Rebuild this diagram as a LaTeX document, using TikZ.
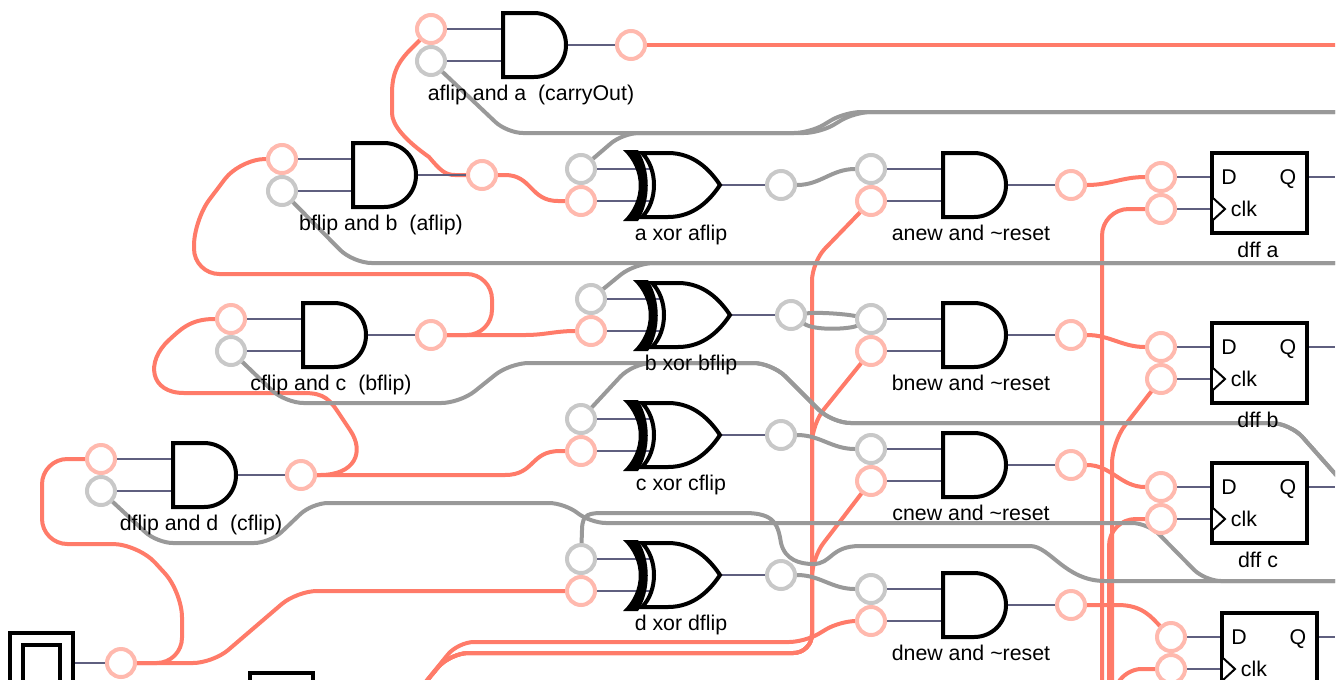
\documentclass[tikz,border=0pt]{standalone}
\usepackage{fontspec}
\setmainfont{Liberation Sans}
\usetikzlibrary{backgrounds}
\definecolor{hiwire}{HTML}{FF7B69}
\definecolor{hipin}{HTML}{FFB9AE}
\definecolor{lowire}{HTML}{999999}
\definecolor{lopin}{HTML}{C8C8C8}
\definecolor{stub}{HTML}{5F5F7F}
\tikzset{x=0.75pt,y=-0.75pt}
\tikzset{pinhi/.style={circle,draw=hipin,fill=white,line width=3pt,minimum size=21pt,inner sep=0pt}}
\tikzset{pinlo/.style={pinhi,draw=lopin}}
\tikzset{wirehi/.style={draw=hiwire,line width=3pt,line cap=round}}
\tikzset{wirelo/.style={draw=lowire,line width=3pt,line cap=round}}
\tikzset{stubwire/.style={draw=stub,line width=1.7pt}}
\tikzset{body/.style={draw=black,fill=white,line width=3pt,line join=miter}}
\tikzset{gatetext/.style={font=\fontsize{16}{18}\selectfont,inner sep=0pt,anchor=base}}
\tikzset{inbox/.style={draw=black,line width=3pt,inner sep=0pt,minimum width=47.25pt}}
\tikzset{pics/andgate/.style={code={
  \draw[body] (2,0) -- (33,0) .. controls (51,0) and (65,14) .. (65,32) .. controls (65,50) and (51,64) .. (33,64) -- (2,64) -- cycle;
  \coordinate (-a) at (2,16);
  \coordinate (-b) at (2,48);
  \coordinate (-y) at (65,32);
  \node[gatetext] (-text) at (30,87) {#1};
}}}
\tikzset{pics/xorgate/.style={code={
  \draw[body] (17,0) -- (43,0) .. controls (69,0) and (85,17) .. (95,32) .. controls (85,47) and (69,64) .. (43,64) -- (17,64) .. controls (33,48) and (33,16) .. (17,0) -- cycle;
  \fill (-2,-3) .. controls (19,17) and (19,48) .. (-2,68) -- (13,68) .. controls (26,48) and (26,17) .. (13,-3) -- cycle;
  \coordinate (-a) at (25,16);
  \coordinate (-b) at (25,48);
  \coordinate (-y) at (95,32);
  \node[gatetext] (-text) at (56,87) {#1};
}}}
\tikzset{pics/dffbox/.style={code={
  \draw[body] (0,0) rectangle (95,80);
  \draw[black,line width=1.5pt,fill=white] (1,45) -- (13,56) -- (1,67);
  \coordinate (-d) at (0,24);
  \coordinate (-c) at (0,56);
  \coordinate (-q) at (95,24);
  \node[gatetext] (-dtext) at (17,31) {D};
  \node[gatetext] (-qtext) at (76,31) {Q};
  \node[gatetext] (-ctext) at (32,63) {clk};
}}}

\begin{document}
\begin{tikzpicture}
  \useasboundingbox (0,0) rectangle (1344,679);
  \clip (0,0) rectangle (1335,679);

  % And gates, left column
  \pic (andcarry) at (501,13) {andgate={aflip and a\ \ (carryOut)}};
  \pic (andaflip) at (351,143) {andgate={bflip and b\ \ (aflip)}};
  \pic (andbflip) at (301,303) {andgate={cflip and c\ \ (bflip)}};
  \pic (andcflip) at (171,443) {andgate={dflip and d\ \ (cflip)}};
  % Xor gates
  \pic (xora) at (625,153) {xorgate={a xor aflip}};
  \pic (xorb) at (635,283) {xorgate={b xor bflip}};
  \pic (xorc) at (625,403) {xorgate={c xor cflip}};
  \pic (xord) at (625,543) {xorgate={d xor dflip}};
  % And gates, reset
  \pic (newa) at (941,153) {andgate={anew and \textasciitilde reset}};
  \pic (newb) at (941,303) {andgate={bnew and \textasciitilde reset}};
  \pic (newc) at (941,433) {andgate={cnew and \textasciitilde reset}};
  \pic (newd) at (941,573) {andgate={dnew and \textasciitilde reset}};
  % Flip flops
  \pic (dffa) at (1212,153) {dffbox};
  \pic (dffb) at (1212,323) {dffbox};
  \pic (dffc) at (1212,463) {dffbox};
  \pic (dffd) at (1222,613) {dffbox};
  \node[gatetext] (dffaname) at (1258,257) {dff a};
  \node[gatetext] (dffbname) at (1258,427) {dff b};
  \node[gatetext] (dffcname) at (1258,567) {dff c};
  % Boxes at the lower edge
  \node[inbox,minimum height=45pt] (flipbox) at (41.5,663) {};
  \node[inbox,minimum width=27.75pt,minimum height=45pt] (flipinner) at (41.5,675) {};
  \node[inbox,minimum height=45pt] (resetbox) at (281.5,703) {};

  % Pins
  \node[pinhi] (andcarrya) at (431,29) {};
  \node[pinlo] (andcarryb) at (431,61) {};
  \node[pinhi] (andcarryy) at (631,45) {};
  \node[pinhi] (andaflipa) at (282,159) {};
  \node[pinlo] (andaflipb) at (282,191) {};
  \node[pinhi] (andaflipy) at (482,175) {};
  \node[pinhi] (andbflipa) at (231,319) {};
  \node[pinlo] (andbflipb) at (231,351) {};
  \node[pinhi] (andbflipy) at (431,335) {};
  \node[pinhi] (andcflipa) at (101,459) {};
  \node[pinlo] (andcflipb) at (101,491) {};
  \node[pinhi] (andcflipy) at (301,475) {};
  \node[pinlo] (xoraa) at (581,169) {};
  \node[pinhi] (xorab) at (581,201) {};
  \node[pinlo] (xoray) at (781,185) {};
  \node[pinlo] (xorba) at (591,299) {};
  \node[pinhi] (xorbb) at (591,331) {};
  \node[pinlo] (xorby) at (791,315) {};
  \node[pinlo] (xorca) at (581,419) {};
  \node[pinhi] (xorcb) at (581,451) {};
  \node[pinlo] (xorcy) at (781,435) {};
  \node[pinlo] (xorda) at (581,559) {};
  \node[pinhi] (xordb) at (581,591) {};
  \node[pinlo] (xordy) at (781,575) {};
  \node[pinlo] (newaa) at (871,169) {};
  \node[pinhi] (newab) at (871,201) {};
  \node[pinhi] (neway) at (1071,185) {};
  \node[pinlo] (newba) at (871,319) {};
  \node[pinhi] (newbb) at (871,351) {};
  \node[pinhi] (newby) at (1071,335) {};
  \node[pinlo] (newca) at (871,449) {};
  \node[pinhi] (newcb) at (871,481) {};
  \node[pinhi] (newcy) at (1071,465) {};
  \node[pinlo] (newda) at (871,589) {};
  \node[pinhi] (newdb) at (871,621) {};
  \node[pinhi] (newdy) at (1071,605) {};
  \node[pinhi] (dffapd) at (1161,177) {};
  \node[pinhi] (dffapc) at (1161,209) {};
  \node[pinhi] (dffbpd) at (1161,347) {};
  \node[pinhi] (dffbpc) at (1161,379) {};
  \node[pinhi] (dffcpd) at (1161,487) {};
  \node[pinhi] (dffcpc) at (1161,519) {};
  \node[pinhi] (dffdpd) at (1171,637) {};
  \node[pinhi] (dffdpc) at (1171,669) {};
  \node[pinhi] (flipout) at (121,663) {};

  % Free ends
  \coordinate (carryend) at (1335,45);
  \coordinate (aend) at (1335,112);
  \coordinate (bend) at (1335,263);
  \coordinate (cend) at (1345,485);
  \coordinate (dend) at (1335,581);
  \coordinate (resetin) at (415,695);
  \coordinate (qa) at (1335,177);
  \coordinate (qb) at (1335,347);
  \coordinate (qc) at (1335,487);
  \coordinate (qd) at (1335,637);

  \begin{scope}[on background layer]
    \clip (0,0) rectangle (1335,679);
    % Wires, high
    \draw[wirehi] (andcarryy) -- (carryend);
    \draw[wirehi] (andcarrya) .. controls (405,55) and (392,65) .. (392,93) -- (392,113) .. controls (392,125) and (405,140) .. (429,157) .. controls (440,170) and (445,175) .. (455,175) -- (andaflipy);
    \draw[wirehi] (andaflipy) -- (505,175) .. controls (532,175) and (530,201) .. (558,201) -- (xorab);
    \draw[wirehi,rounded corners=19pt] (andaflipa) -- (240,159) -- (194,220) -- (194,274) -- (492,274) -- (492,335) -- (andbflipy);
    \draw[wirehi] (andbflipy) -- (525,335) .. controls (545,335) and (555,331) .. (575,331) -- (xorbb);
    \draw[wirehi] (andbflipa) -- (214,319) .. controls (190,319) and (180,330) .. (169,340) .. controls (145,362) and (150,393) .. (184,393) -- (304,393) .. controls (325,393) and (330,400) .. (340,415) -- (350,430) .. controls (365,452) and (355,475) .. (320,475) -- (andcflipy);
    \draw[wirehi] (andcflipy) -- (505,475) .. controls (535,475) and (530,451) .. (560,451) -- (xorcb);
    \draw[wirehi,rounded corners=19pt] (andcflipa) -- (42,459) -- (42,544) -- (138,544) -- (182,592) -- (182,663) -- (flipout);
    \draw[wirehi,rounded corners=15pt] (flipout) -- (213,663) -- (297,591) -- (xordb);
    \draw[wirehi,rounded corners=12pt] (resetin) -- (458,642) -- (805,642) -- (840,621) -- (newdb);
    \draw[wirehi,rounded corners=14pt] (resetin) -- (450,653) -- (812,653) -- (812,262) -- (newab);
    \draw[wirehi,rounded corners=14pt] (resetin) -- (450,653) -- (812,653) -- (812,424) -- (newbb);
    \draw[wirehi,rounded corners=14pt] (resetin) -- (450,653) -- (812,653) -- (812,558) -- (newcb);
    \draw[wirehi] (neway) to[out=0,in=180] (dffapd);
    \draw[wirehi] (newby) to[out=0,in=180] (dffbpd);
    \draw[wirehi] (newcy) to[out=0,in=180] (dffcpd);
    \draw[wirehi] (newdy) -- (1118,605) .. controls (1143,605) and (1152,618) .. (dffdpd);
    \draw[wirehi,rounded corners=20pt] (dffapc) -- (1102,209) -- (1102,695);
    \draw[wirehi,rounded corners=16pt] (dffbpc) -- (1112,442) -- (1112,695);
    \draw[wirehi,rounded corners=20pt] (dffcpc) -- (1109,519) -- (1109,695);
    \draw[wirehi,rounded corners=12pt] (dffdpc) -- (1125,669) -- (1112,695);
    % Wires, low
    \draw[wirelo,rounded corners=12pt] (andcarryb) -- (507,133) -- (820,133) -- (855,112) -- (aend);
    \draw[wirelo,rounded corners=12pt] (xoraa) -- (623,133) -- (810,133) -- (845,112) -- (aend);
    \draw[wirelo,rounded corners=14pt] (andaflipb) -- (353,263) -- (bend);
    \draw[wirelo,rounded corners=14pt] (xorba) -- (635,263) -- (bend);
    \draw[wirelo,rounded corners=14pt] (andbflipb) -- (285,403) -- (460,403) -- (510,363) -- (772,363) -- (832,423) -- (1290,423) -- (cend);
    \draw[wirelo,rounded corners=14pt] (xorca) -- (633,363) -- (772,363) -- (832,423) -- (1290,423) -- (cend);
    \draw[wirelo,rounded corners=12pt] (andcflipb) -- (157,543) -- (270,543) -- (312,503) -- (565,503) -- (590,523) -- (1148,523) -- (1205,581) -- (dend);
    \draw[wirelo] (xorda) -- (582,530) .. controls (582,513) and (590,513) .. (605,513) -- (745,513) .. controls (775,513) and (778,525) .. (781,543) .. controls (785,560) and (800,564) .. (813,564) .. controls (832,564) and (830,546) .. (860,546) -- (1030,546) .. controls (1050,546) and (1065,581) .. (1105,581) -- (dend);
    \draw[wirelo] (xoray) to[out=0,in=180] (newaa);
    \draw[wirelo] (xorby) .. controls (820,312) and (845,314) .. (newba);
    \draw[wirelo] (xorby) .. controls (815,331) and (850,329) .. (newba);
    \draw[wirelo] (xorcy) to[out=0,in=180] (newca);
    \draw[wirelo] (xordy) to[out=0,in=180] (newda);
    % Stubs
    \foreach \g in {andcarry,andaflip,andbflip,andcflip,xora,xorb,xorc,xord,newa,newb,newc,newd}{
      \draw[stubwire] (\g a) -- (\g-a);
      \draw[stubwire] (\g b) -- (\g-b);
      \draw[stubwire] (\g-y) -- (\g y);
    }
    \foreach \g in {dffa,dffb,dffc,dffd}{
      \draw[stubwire] (\g pd) -- (\g-d);
      \draw[stubwire] (\g pc) -- (\g-c);
    }
    \draw[stubwire] (dffa-q) -- (qa);
    \draw[stubwire] (dffb-q) -- (qb);
    \draw[stubwire] (dffc-q) -- (qc);
    \draw[stubwire] (dffd-q) -- (qd);
    \draw[stubwire] (flipbox.east) -- (flipout);
  \end{scope}
\end{tikzpicture}
\end{document}
